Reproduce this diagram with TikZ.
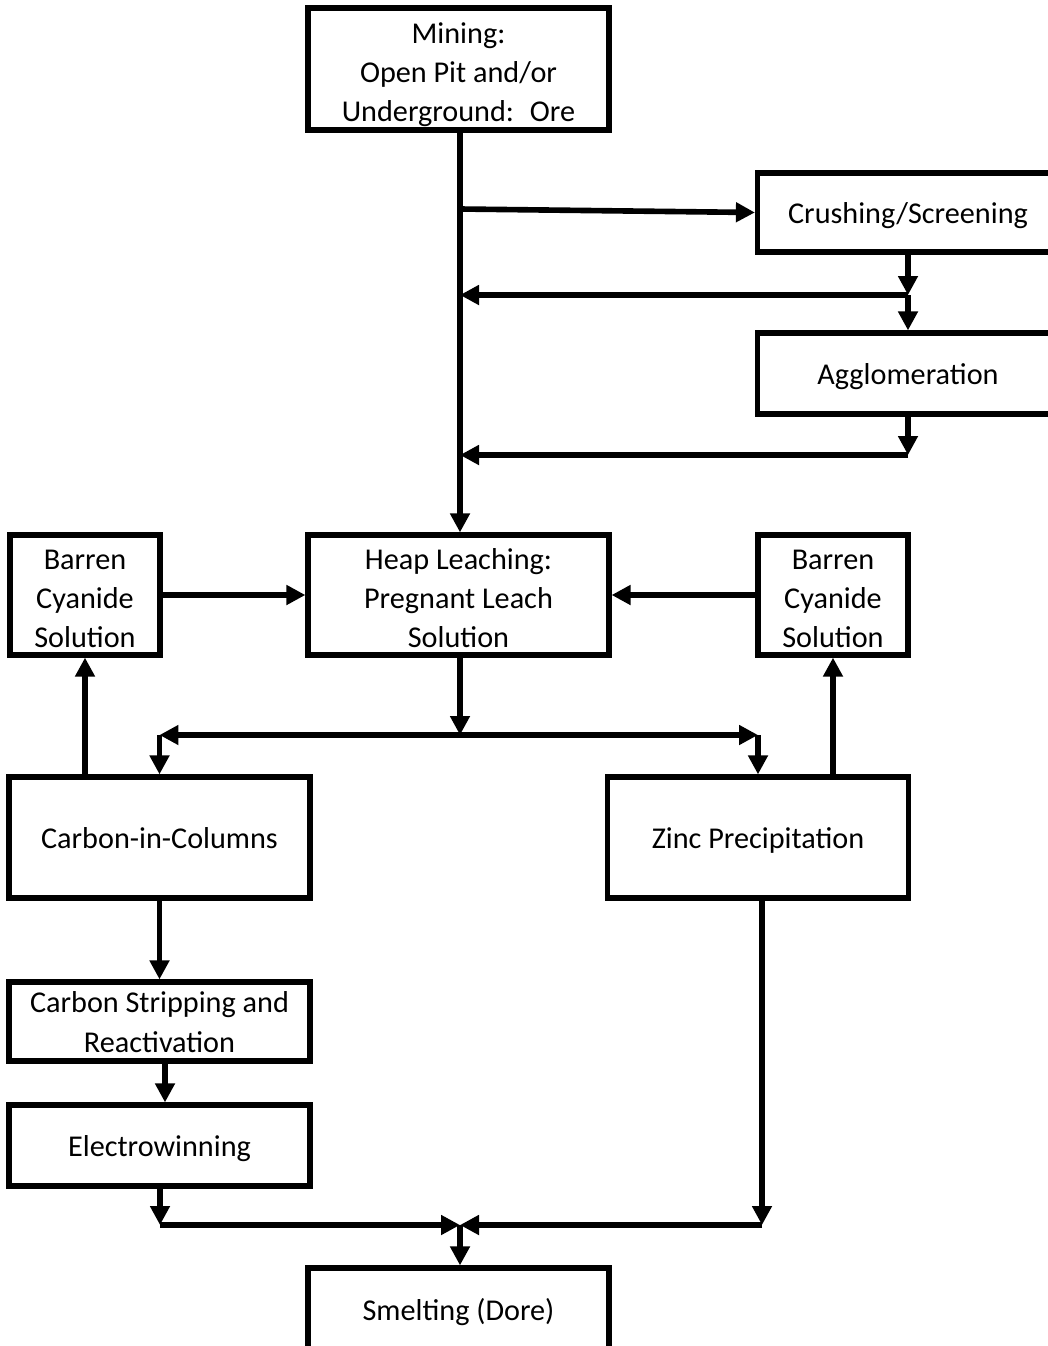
\documentclass[tikz,border=0pt]{standalone}
\usepackage{fontspec}
\setmainfont{Carlito}
\usetikzlibrary{positioning,arrows.meta}

\begin{document}
\begin{tikzpicture}[
        x=0.02cm, y=-0.02cm,
        font=\fontsize{17.2}{22.4}\selectfont,
        >={Triangle[length=0.38cm, width=0.38cm]},
        stage/.style={rectangle, draw, line width=3pt, align=center, inner sep=0pt,
                      minimum width=6.02cm,
                      execute at begin node=\rule{0pt}{19.1pt}, execute at end node=\strut},
        tall/.style={text height=66.7pt, text depth=6.7pt, inner ysep=-3pt},
        small/.style={stage, tall, minimum width=3.0cm},
        flow/.style={->, line width=3.2pt},
    ]
        \useasboundingbox (0,0) rectangle (1048,1346);
        \clip (0,0) rectangle (1048,1346);
        % columns (px)
        \def\lx{159.5} \def\mx{458.5} \def\rx{758} \def\cx{908}
        % process boxes
        \node[stage, tall, minimum height=2.44cm] (mine) at (\mx,69)
            {Mining:\\Open Pit and/or\\Underground:~ Ore};
        \node[stage, minimum height=1.58cm] (crush) at (\cx,212.5) {Crushing/Screening};
        \node[stage, minimum height=1.62cm] (agglo) at (\cx,373.5) {Agglomeration};
        \node[stage, tall, minimum height=2.4cm] (heap) at (\mx,595)
            {Heap Leaching:\\Pregnant Leach\\Solution};
        \node[small, minimum height=2.4cm] (barL) at (85,595) {Barren\\Cyanide\\Solution};
        \node[small, minimum height=2.4cm] (barR) at (833,595) {Barren\\Cyanide\\Solution};
        \node[stage, minimum height=2.42cm] (cic) at (\lx,837.5) {Carbon-in-Columns};
        \node[stage, minimum height=2.42cm] (zinc) at (\rx,837.5) {Zinc Precipitation};
        \node[stage, text height=41.8pt, text depth=6.7pt, inner ysep=-2pt,
              minimum height=1.58cm] (strip) at (\lx,1021.5)
            {Carbon Stripping and\\Reactivation};
        \node[stage, minimum height=1.62cm] (elec) at (\lx,1145.5) {Electrowinning};
        \node[stage, minimum height=1.68cm] (smelt) at (\mx,1310) {Smelting (Dore)};
        % junctions
        \coordinate (jmn) at (460,209);
        \coordinate (jcr) at (\cx,295);
        \coordinate (jag) at (\cx,455);
        \coordinate (jhp) at (460,735);
        \coordinate (jst) at (165,1061);
        \coordinate (jew) at (160,1225);
        \coordinate (jzn) at (762,1225);
        \coordinate (jsm) at (460,1225);
        % ore path
        \draw[flow] (mine.south -| jhp) -- (heap.north -| jhp);
        \draw[flow] (jmn) -- (crush.west);
        \draw[flow] (crush.south) -- (jcr);
        \draw[flow] (jcr) -- (agglo.north);
        \draw[flow] (jcr) -- (jcr -| jhp);
        \draw[flow] (agglo.south) -- (jag);
        \draw[flow] (jag) -- (jag -| jhp);
        % solutions
        \draw[flow] (barL.east) -- (heap.west);
        \draw[flow] (barR.west) -- (heap.east);
        \draw[flow] (heap.south -| jhp) -- (jhp);
        \draw[flow] (jhp) -- (jhp -| cic.north);
        \draw[flow] (jhp -| cic.north) -- (cic.north);
        \draw[flow] (jhp) -- (jhp -| zinc.north);
        \draw[flow] (jhp -| zinc.north) -- (zinc.north);
        \draw[flow] (cic.north -| barL.south) -- (barL.south);
        \draw[flow] (zinc.north -| barR.south) -- (barR.south);
        % recovery
        \draw[flow] (cic.south) -- (strip.north);
        \draw[flow] (jst) -- (elec.north -| jst);
        \draw[flow] (elec.south -| jew) -- (jew);
        \draw[flow] (zinc.south -| jzn) -- (jzn);
        \draw[flow] (jew) -- (jsm);
        \draw[flow] (jzn) -- (jsm);
        \draw[flow] (jsm) -- (smelt.north -| jsm);
    \end{tikzpicture}
\end{document}
